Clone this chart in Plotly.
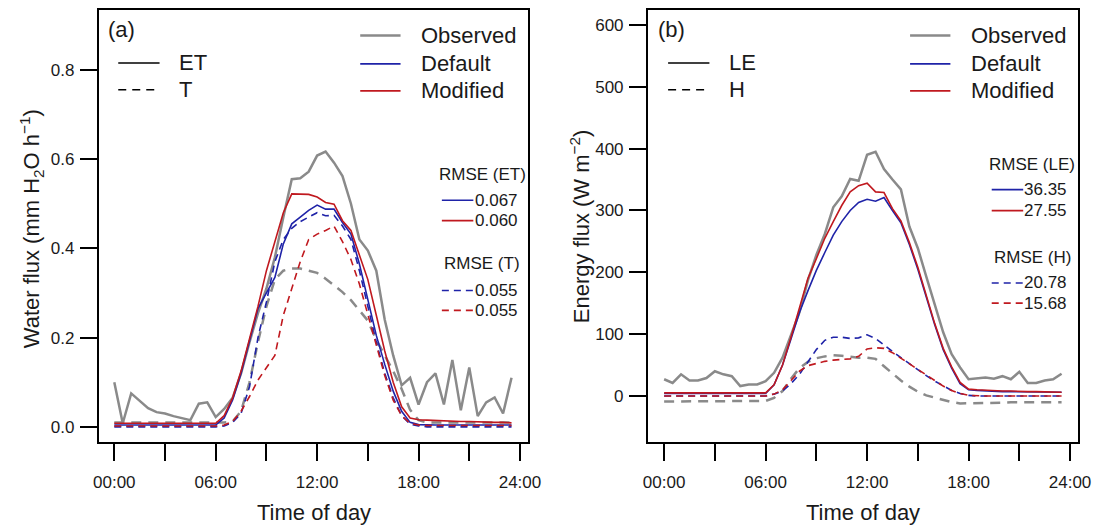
import plotly.graph_objects as go

# page geometry: the figure div sits 8px inside the page (default body margin)
PAGE_W, PAGE_H = 1108, 529
OFF = 8
W, H = PAGE_W - OFF, PAGE_H - OFF

hours = [0.0, 0.5, 1.0, 1.5, 2.0, 2.5, 3.0, 3.5, 4.0, 4.5, 5.0, 5.5,
         6.0, 6.5, 7.0, 7.5, 8.0, 8.5, 9.0, 9.5, 10.0, 10.5, 11.0, 11.5,
         12.0, 12.5, 13.0, 13.5, 14.0, 14.5, 15.0, 15.5, 16.0, 16.5, 17.0, 17.5,
         18.0, 18.5, 19.0, 19.5, 20.0, 20.5, 21.0, 21.5, 22.0, 22.5, 23.0, 23.5]

# ---- panel (a): water flux (mm H2O h-1)
obs_et = [0.100, 0.008, 0.075, 0.058, 0.042, 0.033, 0.030, 0.024, 0.019, 0.015, 0.052, 0.055,
          0.022, 0.040, 0.065, 0.120, 0.190, 0.255, 0.310, 0.380, 0.470, 0.555, 0.557, 0.572,
          0.608, 0.617, 0.592, 0.562, 0.500, 0.420, 0.395, 0.350, 0.240, 0.160, 0.093, 0.110,
          0.050, 0.100, 0.120, 0.050, 0.150, 0.037, 0.133, 0.024, 0.055, 0.066, 0.030, 0.110]
obs_t = [0.010, 0.010, 0.010, 0.010, 0.010, 0.010, 0.010, 0.010, 0.010, 0.010, 0.010, 0.010,
         0.010, 0.010, 0.012, 0.035, 0.100, 0.190, 0.270, 0.330, 0.350, 0.355, 0.355, 0.350,
         0.345, 0.332, 0.318, 0.302, 0.284, 0.262, 0.238, 0.195, 0.160, 0.125, 0.085, 0.038,
         0.015, 0.010, 0.010, 0.010, 0.010, 0.010, 0.010, 0.010, 0.010, 0.010, 0.010, 0.010]
def_et = [0.004, 0.004, 0.004, 0.004, 0.004, 0.004, 0.004, 0.004, 0.004, 0.004, 0.004, 0.004,
          0.004, 0.020, 0.060, 0.120, 0.190, 0.265, 0.300, 0.335, 0.410, 0.455, 0.470, 0.485,
          0.497, 0.488, 0.488, 0.458, 0.432, 0.365, 0.285, 0.205, 0.140, 0.080, 0.035, 0.010,
          0.005, 0.004, 0.004, 0.004, 0.004, 0.004, 0.004, 0.004, 0.004, 0.004, 0.004, 0.004]
mod_et = [0.008, 0.008, 0.008, 0.008, 0.008, 0.008, 0.008, 0.008, 0.008, 0.008, 0.008, 0.008,
          0.008, 0.025, 0.065, 0.125, 0.195, 0.270, 0.350, 0.415, 0.480, 0.522, 0.521, 0.521,
          0.515, 0.503, 0.499, 0.462, 0.440, 0.385, 0.330, 0.250, 0.170, 0.100, 0.045, 0.020,
          0.016, 0.015, 0.014, 0.013, 0.013, 0.012, 0.012, 0.011, 0.011, 0.010, 0.010, 0.009]
def_t = [0.000, 0.000, 0.000, 0.000, 0.000, 0.000, 0.000, 0.000, 0.000, 0.000, 0.000, 0.000,
         0.000, 0.002, 0.010, 0.030, 0.090, 0.200, 0.280, 0.370, 0.420, 0.445, 0.460, 0.470,
         0.480, 0.473, 0.474, 0.450, 0.420, 0.350, 0.270, 0.190, 0.120, 0.065, 0.025, 0.006,
         0.002, 0.000, 0.000, 0.000, 0.000, 0.000, 0.000, 0.000, 0.000, 0.000, 0.000, 0.000]
mod_t = [0.002, 0.002, 0.002, 0.002, 0.002, 0.002, 0.002, 0.002, 0.002, 0.002, 0.002, 0.002,
         0.002, 0.004, 0.012, 0.035, 0.068, 0.105, 0.132, 0.160, 0.250, 0.310, 0.370, 0.420,
         0.432, 0.440, 0.450, 0.415, 0.375, 0.320, 0.250, 0.180, 0.115, 0.060, 0.025, 0.008,
         0.004, 0.003, 0.003, 0.003, 0.003, 0.003, 0.003, 0.003, 0.003, 0.003, 0.003, 0.003]

# ---- panel (b): energy flux (W m-2)
obs_le = [27, 21, 35, 25, 25, 29, 40, 35, 32, 16, 18.5, 18.5,
          24, 37.5, 62, 100, 135, 187, 228, 262, 305, 323, 351, 348,
          390, 395, 367, 350, 334, 274, 239, 193, 149, 103, 67.5, 46,
          27, 29, 30, 28, 32, 27, 39, 21, 21, 25, 27, 36]
obs_h = [-9, -9, -9, -9, -9, -9, -9, -9, -9, -9, -9, -9,
         -8, -3, 8, 28, 45, 55, 61, 64, 66, 65, 63, 62,
         62, 60, 48, 36, 25, 15, 7, 1, -3, -7, -10, -12,
         -12, -12, -11, -11, -11, -10, -10, -10, -10, -10, -10, -10]
def_le = [4, 4, 4, 4, 4, 4, 4, 4, 4, 4, 4, 4,
          4, 18, 50, 92, 135, 170, 203, 232, 260, 282, 300, 313,
          318, 315, 321, 300, 280, 245, 205, 160, 115, 75, 45, 20,
          10, 9, 8, 8, 7, 7, 7, 6, 6, 6, 6, 6]
mod_le = [5, 5, 5, 5, 5, 5, 5, 5, 5, 5, 5, 5,
          5, 18, 50, 95, 142, 190, 222, 255, 282, 308, 330, 340,
          344, 330, 329, 303, 283, 248, 208, 163, 117, 77, 47, 22,
          11, 10, 9, 9, 8, 8, 7, 7, 7, 7, 6, 6]
def_h = [0, 0, 0, 0, 0, 0, 0, 0, 0, 0, 0, 0,
         0, 3, 8, 20, 35, 55, 75, 90, 95, 95, 93, 94,
         99, 93, 82, 72, 62, 52, 42, 33, 24, 16, 9, 4,
         1, 0, 0, 0, 0, 0, 0, 0, 0, 0, 0, 0]
mod_h = [0, 0, 0, 0, 0, 0, 0, 0, 0, 0, 0, 0,
         0, 3, 10, 25, 40, 49, 53, 56, 58, 59, 60, 64,
         76, 78, 77, 70, 61, 51, 42, 33, 24, 16, 9, 4,
         1, 0, 0, 0, 0, 0, 0, 0, 0, 0, 0, 0]

x_tickvals = [0, 6, 12, 18, 24]
x_ticktext = ["00:00", "06:00", "12:00", "18:00", "24:00"]
x_minorvals = [3, 9, 15, 21]
ya_tickvals = [0.0, 0.2, 0.4, 0.6, 0.8]
ya_ticktext = ["0.0", "0.2", "0.4", "0.6", "0.8"]
yb_tickvals = [0, 100, 200, 300, 400, 500, 600]
yb_ticktext = ["0", "100", "200", "300", "400", "500", "600"]

rmse_a = {"ET": ["0.067", "0.060"], "T": ["0.055", "0.055"]}
rmse_b = {"LE": ["36.35", "27.55"], "H": ["20.78", "15.68"]}

GRAY = "#8a8a8a"
BLUE = "#1f23a8"
RED = "#c0191f"
TXT = "#1a1a1a"
FONT = "Liberation Sans, Arial, sans-serif"
GDASH = "10px,7px"
CDASH = "7px,5px"

fig = go.Figure()

def add_panel(xa, ya, obs_s, obs_d, def_s, def_d, mod_s, mod_d):
    fig.add_trace(go.Scatter(x=hours, y=obs_d, mode="lines", xaxis=xa, yaxis=ya,
                             line=dict(color=GRAY, width=2.5, dash=GDASH)))
    fig.add_trace(go.Scatter(x=hours, y=obs_s, mode="lines", xaxis=xa, yaxis=ya,
                             line=dict(color=GRAY, width=2.5)))
    fig.add_trace(go.Scatter(x=hours, y=def_d, mode="lines", xaxis=xa, yaxis=ya,
                             line=dict(color=BLUE, width=1.6, dash=CDASH)))
    fig.add_trace(go.Scatter(x=hours, y=def_s, mode="lines", xaxis=xa, yaxis=ya,
                             line=dict(color=BLUE, width=1.6)))
    fig.add_trace(go.Scatter(x=hours, y=mod_d, mode="lines", xaxis=xa, yaxis=ya,
                             line=dict(color=RED, width=1.6, dash=CDASH)))
    fig.add_trace(go.Scatter(x=hours, y=mod_s, mode="lines", xaxis=xa, yaxis=ya,
                             line=dict(color=RED, width=1.6)))

add_panel("x", "y", obs_et, obs_t, def_et, def_t, mod_et, mod_t)
add_panel("x2", "y2", obs_le, obs_h, def_le, def_h, mod_le, mod_h)

def px(x):
    return (x - OFF) / W

def py(y):
    return 1 - (y - OFF) / H

ydom = [py(442.3), min(1.0, py(9.0))]
axis_common = dict(showgrid=False, zeroline=False, showline=True, mirror=True,
                   linecolor="black", linewidth=1.5, ticks="outside", ticklen=17,
                   tickwidth=1.5, tickcolor="black",
                   tickfont=dict(family=FONT, size=17, color=TXT))
minor_x = dict(tickmode="array", tickvals=x_minorvals, ticks="outside", ticklen=17,
               tickwidth=1.5, tickcolor="black", showgrid=False)

# y ranges adjusted so that the data scale matches the reference even though
# the plot top is clipped by 1.7 px to stay on the figure
ya_top = 0.8 + (69 - 9.0) / 447.0
yb_top = 600 + (24 - 9.0) / 0.62

fig.update_layout(
    width=W, height=H,
    margin=dict(l=0, r=0, t=0, b=0),
    paper_bgcolor="white", plot_bgcolor="white",
    showlegend=False,
    font=dict(family=FONT, color=TXT),
    xaxis=dict(domain=[px(95), px(532)], range=[-0.93, 24.5], anchor="y",
               tickmode="array", tickvals=x_tickvals, ticktext=x_ticktext,
               ticklabelstandoff=6, minor=minor_x, **axis_common),
    yaxis=dict(domain=ydom, range=[-0.035, ya_top], anchor="x",
               tickmode="array", tickvals=ya_tickvals, ticktext=ya_ticktext,
               ticklabelstandoff=2, **axis_common),
    xaxis2=dict(domain=[px(653.3), px(1090.7)], range=[-0.97, 24.47], anchor="y2",
                tickmode="array", tickvals=x_tickvals, ticktext=x_ticktext,
                ticklabelstandoff=6, minor=minor_x, **axis_common),
    yaxis2=dict(domain=ydom, range=[-75.2, yb_top], anchor="x2",
                tickmode="array", tickvals=yb_tickvals, ticktext=yb_ticktext,
                ticklabelstandoff=2, **axis_common),
)

shapes = []
annots = []

def hline(x0, x1, y, color, width, dash="solid"):
    shapes.append(dict(type="line", xref="paper", yref="paper",
                       x0=px(x0), x1=px(x1), y0=py(y), y1=py(y),
                       line=dict(color=color, width=width, dash=dash)))

def text(x, y, s, size, anchor="left", angle=0):
    annots.append(dict(x=px(x), y=py(y), xref="paper", yref="paper", text=s,
                       showarrow=False, xanchor=anchor, yanchor="middle",
                       textangle=angle, font=dict(family=FONT, size=size, color=TXT)))

def legends(off, tag, solid_lab, dash_lab, r_solid, r_dash, rmse_x, rmse_y):
    text(off + 103, 29, tag, 22)
    hline(off + 115, off + 157, 62, "black", 1.5)
    text(off + 175, 62, solid_lab, 22)
    hline(off + 115, off + 152, 89, "black", 1.5, "8px,6px")
    text(off + 175, 89, dash_lab, 22)
    hline(off + 361, off + 402, 34.6, GRAY, 2.5)
    text(off + 421, 34.6, "Observed", 22)
    hline(off + 361, off + 402, 63, BLUE, 1.6)
    text(off + 421, 63, "Default", 22)
    hline(off + 361, off + 402, 90, RED, 1.6)
    text(off + 421, 90, "Modified", 22)
    lx0, lx1, tx, cx = rmse_x
    y1, y2, y3, y4, y5, y6 = rmse_y
    text(cx, y1, "RMSE (%s)" % solid_lab, 17, "center")
    hline(lx0, lx1, y2, BLUE, 1.6)
    text(tx, y2, r_solid[0], 17)
    hline(lx0, lx1, y3, RED, 1.6)
    text(tx, y3, r_solid[1], 17)
    text(cx, y4, "RMSE (%s)" % dash_lab, 17, "center")
    hline(lx0, lx1, y5, BLUE, 1.6, CDASH)
    text(tx, y5, r_dash[0], 17)
    hline(lx0, lx1, y6, RED, 1.6, CDASH)
    text(tx, y6, r_dash[1], 17)

legends(0, "(a)", "ET", "T", rmse_a["ET"], rmse_a["T"],
        (444, 476, 475.5, 485), (174, 199.6, 220, 263, 290, 310))
legends(559, "(b)", "LE", "H", rmse_b["LE"], rmse_b["H"],
        (1003, 1035, 1034, 1044), (164, 189, 210, 256.5, 282.5, 302.7))

# axis titles
text(313.5, 512, "Time of day", 22, "center")
text(872, 512, "Time of day", 22, "center")
text(27, 228, "Water flux (mm H<sub>2</sub>O h<sup>\u22121</sup>)", 22, "center", -90)
text(584, 226, "Energy flux (W m<sup>\u22122</sup>)", 22, "center", -90)

fig.update_layout(shapes=shapes, annotations=annots)
fig.write_html("out.html")
